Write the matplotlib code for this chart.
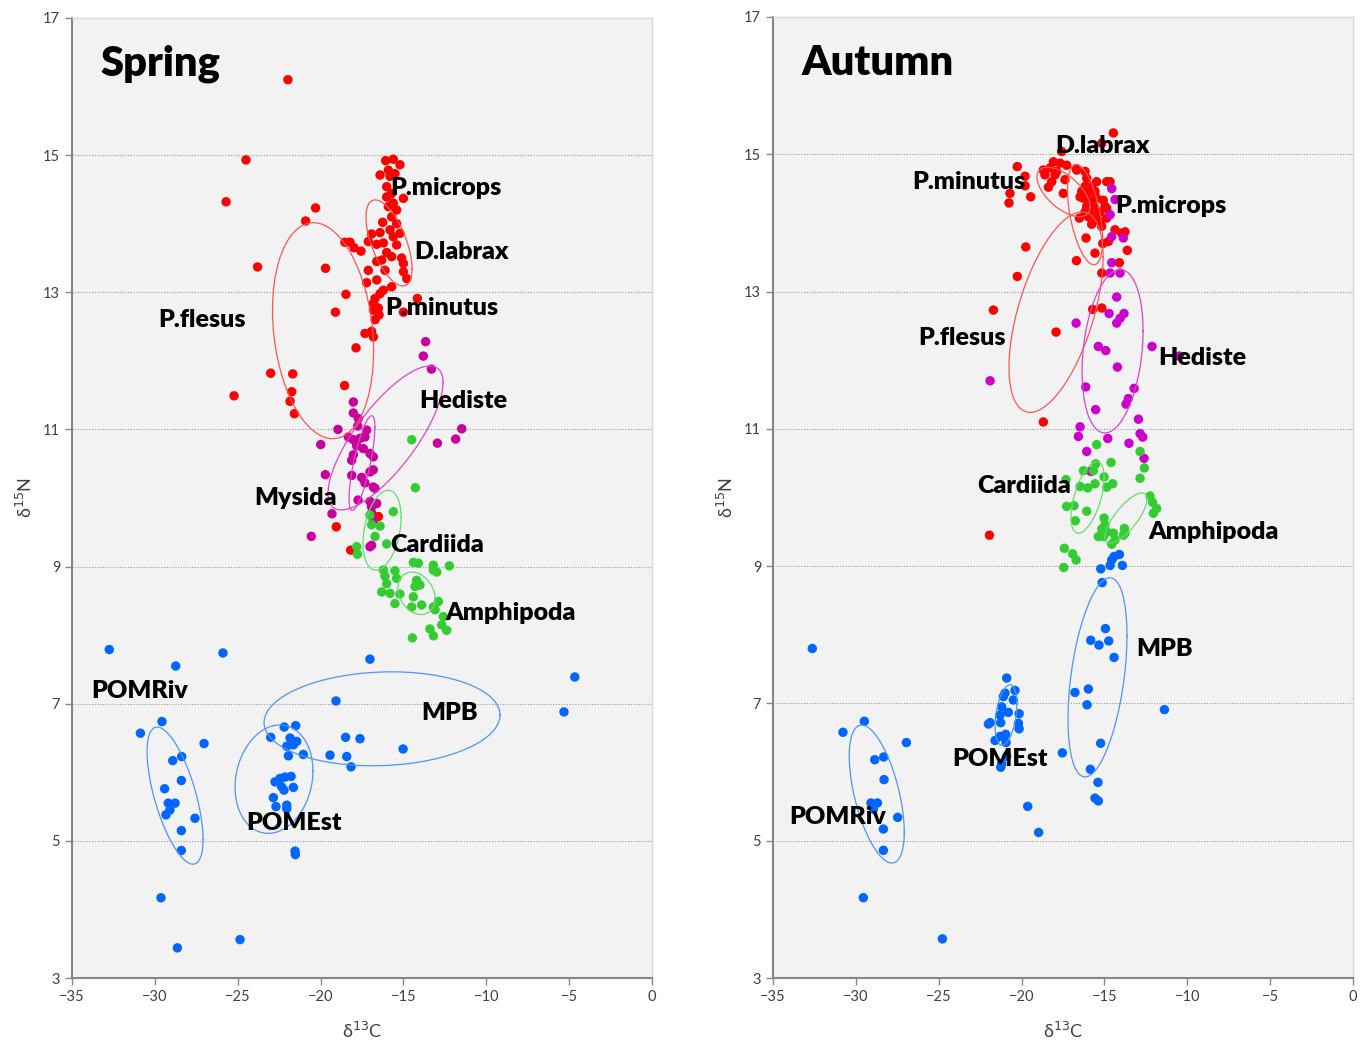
import numpy as np
import matplotlib
matplotlib.use('Agg')
import matplotlib.pyplot as plt

plt.rcParams['font.family'] = ['Lato', 'DejaVu Sans']

# ---------------- Spring data ----------------
spring_red_x = [-21.97, -24.5, -25.7, -20.3, -20.9, -23.8, -19.7, -18.53, -18.22, -17.98, -17.56,
                -18.47, -19.1, -17.86,
                -16.07, -15.61, -15.21, -15.91, -16.41, -15.81, -15.51, -16.01, -15.71, -15.00,
                -16.01, -15.61, -15.41, -15.91, -15.71, -15.41, -16.25, -15.81, -16.41, -16.92,
                -15.21, -15.61, -17.12, -16.61, -16.21, -15.41, -16.01, -15.71, -16.31, -15.11,
                -15.00, -16.61, -16.11, -17.12, -15.00, -14.80, -16.61, -17.22, -15.71, -16.21,
                -16.41, -16.71, -16.81, -16.51, -16.81, -16.71, -16.47, -17.32, -16.92, -16.81,
                -14.16, -15.00,
                -23.01, -21.68, -25.22, -21.74, -21.84, -21.58, -18.55, -16.51, -19.05, -18.18]
spring_red_y = [16.10, 14.93, 14.32, 14.23, 14.04, 13.37, 13.35, 13.73, 13.73, 13.65, 13.60,
                12.97, 12.71, 12.19,
                14.92, 14.94, 14.86, 14.78, 14.71, 14.69, 14.73, 14.54, 14.44, 14.37,
                14.39, 14.30, 14.20, 14.25, 14.10, 14.00, 14.02, 13.91, 13.87, 13.85,
                13.86, 13.81, 13.74, 13.70, 13.72, 13.69, 13.58, 13.52, 13.47, 13.50,
                13.42, 13.45, 13.32, 13.32, 13.30, 13.20, 13.18, 13.14, 13.08, 13.03,
                12.98, 12.91, 12.84, 12.77, 12.74, 12.60, 12.67, 12.40, 12.43, 12.35,
                12.91, 12.71,
                11.82, 11.81, 11.49, 11.55, 11.41, 11.23, 11.64, 9.73, 9.58, 9.24]

spring_mag_x = [-13.66, -13.80, -13.31, -18.02, -18.02, -17.72, -17.76, -18.95, -17.22, -18.32,
                -18.02, -17.62, -17.32, -17.82, -17.42, -19.99, -18.02, -17.02, -16.82, -18.12,
                -11.48, -11.85, -12.95, -19.71, -18.12, -17.52, -17.32, -17.02, -16.82, -16.82,
                -16.71, -17.74, -17.02, -16.61, -16.92, -16.92, -16.81, -19.31, -20.56, -16.92,
                -17.02]
spring_mag_y = [12.28, 12.07, 11.88, 11.40, 11.24, 11.16, 11.05, 11.00, 10.99, 10.89,
                10.85, 10.87, 10.89, 10.76, 10.72, 10.78, 10.63, 10.65, 10.60, 10.55,
                11.01, 10.86, 10.80, 10.34, 10.33, 10.30, 10.22, 10.38, 10.41, 10.16,
                10.14, 9.97, 9.95, 9.92, 9.87, 9.78, 9.68, 9.77, 9.44, 9.31,
                9.29]

spring_green_x = [-14.50, -14.28, -15.61, -17.02, -16.92, -16.41, -16.71, -16.01, -17.82, -17.78,
                  -14.40, -14.10, -13.19, -12.23, -13.19, -12.99, -16.21, -15.51, -16.11, -15.41,
                  -16.01, -16.31, -15.81, -15.21, -14.20, -14.30, -14.00, -14.40, -14.50, -15.51,
                  -13.90, -13.19, -12.89, -13.09, -12.59, -12.69, -13.40, -12.39, -13.19, -14.46]
spring_green_y = [10.85, 10.15, 9.80, 9.75, 9.61, 9.59, 9.44, 9.33, 9.29, 9.18,
                  9.06, 9.05, 9.02, 9.01, 8.95, 8.92, 8.95, 8.94, 8.86, 8.83,
                  8.75, 8.63, 8.61, 8.60, 8.80, 8.71, 8.73, 8.56, 8.41, 8.46,
                  8.44, 8.41, 8.49, 8.37, 8.27, 8.15, 8.09, 8.07, 7.99, 7.96]

spring_blue_x = [-32.75, -28.74, -25.89, -29.57, -30.87, -27.03, -28.38, -28.92, -28.40, -29.41,
                 -29.19, -28.78, -29.09, -29.33, -27.58, -28.40, -28.40, -29.63, -28.64, -24.86,
                 -22.19, -21.50, -23.01, -21.84, -21.44, -21.64, -22.04, -21.94, -21.04,
                 -22.75, -22.45, -22.15, -21.78, -22.35, -22.21, -21.64, -22.85, -22.69, -22.04,
                 -22.04, -21.54, -21.52,
                 -17.02, -19.07, -18.49, -17.62, -19.43, -18.42, -18.16, -15.02, -4.66, -5.31]
spring_blue_y = [7.79, 7.55, 7.74, 6.74, 6.57, 6.42, 6.23, 6.17, 5.88, 5.76,
                 5.55, 5.55, 5.45, 5.38, 5.33, 5.15, 4.86, 4.17, 3.44, 3.56,
                 6.66, 6.68, 6.51, 6.50, 6.45, 6.40, 6.38, 6.24, 6.26,
                 5.86, 5.91, 5.93, 5.94, 5.79, 5.74, 5.78, 5.63, 5.50, 5.52,
                 5.47, 4.85, 4.80,
                 7.65, 7.04, 6.51, 6.49, 6.25, 6.23, 6.08, 6.34, 7.39, 6.88]

# ellipses: centre, half-width, half-height, tilt (correlation)
spring_ell_cx = [-19.85, -15.87, -16.08, -17.50, -16.29, -14.21, -28.78, -22.81, -16.29]
spring_ell_cy = [12.44, 13.72, 10.875, 10.51, 9.53, 8.61, 5.66, 5.90, 6.78]
spring_ell_rx = [3.05, 1.39, 3.47, 0.78, 1.15, 1.12, 1.69, 2.35, 7.12]
spring_ell_ry = [1.575, 0.627, 1.05, 0.69, 0.583, 0.31, 1.0, 0.79, 0.685]
spring_ell_rho = [-0.19, -0.6, 0.77, 0.75, 0.32, -0.25, -0.64, 0.15, 0.08]
spring_ell_col = ['red', 'red', 'mag', 'mag', 'green', 'green', 'blue', 'blue', 'blue']

spring_labels = ['P.microps', 'D.labrax', 'P.minutus', 'P.flesus', 'Hediste', 'Mysida',
                 'Cardiida', 'Amphipoda', 'POMRiv', 'MPB', 'POMEst']
spring_lab_x = [-15.81, -14.36, -16.11, -29.81, -14.06, -24.02, -15.81, -12.49, -33.85, -13.94, -24.50]
spring_lab_y = [14.52, 13.59, 12.77, 12.60, 11.41, 10.00, 9.31, 8.32, 7.19, 6.86, 5.26]

# ---------------- Autumn data ----------------
autumn_red_x = [-14.46, -15.16, -17.58, -20.26, -19.79, -20.70, -20.76, -19.45, -19.79,
                -18.08, -17.68, -17.28, -18.69, -18.28, -17.88, -18.59, -17.98, -17.38, -18.18,
                -18.38, -17.48, -16.71, -16.17, -16.67,
                -16.07, -15.47, -14.86, -14.66, -16.17, -15.77, -16.37, -15.97, -15.57, -16.27,
                -15.87, -15.47, -15.07, -16.47, -16.07, -15.67, -14.96, -16.17, -15.77, -15.27,
                -14.86, -15.97, -15.47, -14.86, -16.51, -15.27, -15.77, -15.17, -14.36, -13.96,
                -13.76, -16.11, -15.10, -14.76, -15.57, -13.62, -16.69, -14.10, -15.16, -19.75,
                -20.26, -21.70, -17.92, -15.71, -15.16, -18.69, -21.94]
autumn_red_y = [15.31, 15.16, 15.04, 14.82, 14.68, 14.43, 14.29, 14.38, 14.54,
                14.89, 14.87, 14.84, 14.77, 14.80, 14.75, 14.70, 14.70, 14.63, 14.60,
                14.52, 14.43, 14.79, 14.75, 14.77,
                14.65, 14.60, 14.60, 14.60, 14.53, 14.53, 14.46, 14.43, 14.46, 14.36,
                14.33, 14.36, 14.33, 14.38, 14.24, 14.24, 14.24, 14.16, 14.14, 14.16,
                14.21, 14.09, 14.09, 14.07, 14.07, 14.02, 13.98, 13.95, 13.90, 13.85,
                13.87, 13.78, 13.70, 13.73, 13.56, 13.60, 13.45, 13.42, 13.27, 13.65,
                13.22, 12.73, 12.41, 12.74, 12.76, 11.10, 9.45]

autumn_mag_x = [-14.56, -14.36, -14.66, -14.56, -13.86, -14.56, -14.66, -14.06, -14.26, -14.72,
                -14.26, -14.06, -13.82, -16.71, -21.90, -15.37, -14.92, -12.13, -10.48, -14.22,
                -16.13, -13.21, -13.56, -13.70, -15.53, -12.95, -16.47, -16.57, -14.80, -12.85,
                -12.69, -13.52, -16.07, -12.61, -15.83]
autumn_mag_y = [14.50, 14.34, 14.12, 13.80, 13.78, 13.42, 13.27, 13.27, 12.92, 12.68,
                12.54, 12.61, 12.68, 12.54, 11.70, 12.20, 12.14, 12.20, 12.06, 11.90,
                11.61, 11.59, 11.44, 11.36, 11.28, 11.14, 11.03, 10.89, 10.86, 10.93,
                10.88, 10.79, 10.67, 10.57, 10.38]

autumn_green_x = [-15.47, -12.85, -14.60, -15.53, -15.67, -16.27, -12.59, -12.85, -17.32, -15.02,
                  -16.47, -16.01, -15.57, -14.86, -14.50, -12.25, -12.09, -11.85, -12.05, -17.28,
                  -16.84, -16.07, -16.76, -15.02, -14.96, -15.16, -14.86, -15.37, -15.06, -14.46,
                  -14.36, -14.56, -13.80, -13.76, -13.86, -17.42, -16.92, -16.71, -17.46]
autumn_green_y = [10.77, 10.67, 10.51, 10.49, 10.39, 10.39, 10.43, 10.28, 10.26, 10.30,
                  10.16, 10.14, 10.20, 10.15, 10.20, 10.02, 9.93, 9.84, 9.77, 9.87,
                  9.88, 9.80, 9.66, 9.70, 9.60, 9.54, 9.50, 9.43, 9.43, 9.48,
                  9.38, 9.32, 9.55, 9.48, 9.45, 9.26, 9.18, 9.09, 8.98]

autumn_blue_x = [-14.10, -14.42, -14.56, -14.66, -13.92, -15.22, -15.14, -14.94, -15.83, -15.33,
                 -14.74, -14.42, -20.90, -32.63,
                 -21.00, -20.40, -21.10, -20.50, -21.20, -20.80, -21.30, -21.90, -22.00, -21.26,
                 -20.15, -20.19, -20.15, -21.60, -21.30, -20.96, -20.94, -20.90, -21.26, -21.20,
                 -15.97, -16.78, -16.05, -15.23, -17.54, -15.85, -15.39, -15.57, -15.37, -11.38,
                 -19.63, -18.97,
                 -29.49, -30.78, -26.95, -28.32, -28.86, -28.30, -29.09, -28.70, -28.95, -27.48,
                 -28.34, -28.34, -29.55, -24.78]
autumn_blue_y = [9.17, 9.14, 9.09, 9.01, 9.01, 8.96, 8.76, 8.09, 7.92, 7.85,
                 7.91, 7.67, 7.37, 7.80,
                 7.15, 7.19, 7.10, 7.05, 6.95, 6.87, 6.83, 6.72, 6.70, 6.72,
                 6.85, 6.71, 6.63, 6.46, 6.52, 6.55, 6.43, 6.23, 6.07, 6.12,
                 7.21, 7.16, 6.98, 6.42, 6.28, 6.04, 5.85, 5.62, 5.58, 6.91,
                 5.50, 5.12,
                 6.74, 6.58, 6.43, 6.22, 6.18, 5.89, 5.55, 5.55, 5.46, 5.34,
                 5.17, 4.86, 4.17, 3.57]

autumn_ell_cx = [-17.92, -17.47, -16.17, -14.51, -16.02, -13.70, -15.42, -20.94, -28.74]
autumn_ell_cy = [12.70, 14.45, 14.12, 12.13, 10.0, 9.70, 7.38, 6.83, 5.68]
autumn_ell_rx = [2.84, 1.6, 1.06, 1.84, 1.0, 1.27, 1.78, 0.66, 1.66]
autumn_ell_ry = [1.46, 0.36, 0.73, 1.19, 0.52, 0.365, 1.45, 0.44, 1.005]
autumn_ell_rho = [0.55, -0.6, -0.5, 0.25, 0.55, 0.76, 0.42, 0.36, -0.55]
autumn_ell_col = ['red', 'red', 'red', 'mag', 'green', 'green', 'blue', 'blue', 'blue']

autumn_labels = ['D.labrax', 'P.minutus', 'P.microps', 'P.flesus', 'Hediste', 'Cardiida',
                 'Amphipoda', 'MPB', 'POMEst', 'POMRiv']
autumn_lab_x = [-17.98, -26.61, -14.36, -26.25, -11.77, -22.69, -12.37, -13.09, -24.20, -34.03]
autumn_lab_y = [15.12, 14.60, 14.25, 12.32, 12.03, 10.17, 9.50, 7.79, 6.19, 5.35]

dot_colors = {'red': '#ff0000', 'green': '#33cc33', 'blue': '#0066ff'}
line_colors = {'red': '#ff5555', 'mag': '#dd44cc', 'green': '#66dd66', 'blue': '#4d94ff'}


def ellipse_xy(cx, cy, rx, ry, rho):
    t = np.linspace(0, 2 * np.pi, 300)
    phi = np.arccos(rho)
    return cx + rx * np.cos(t), cy + ry * np.cos(t - phi)


def draw_panel(ax, title, groups, ells, labels, mag_color):
    ax.set_facecolor('#f2f2f2')
    ax.set_xlim(-35, 0)
    ax.set_ylim(3, 17)
    ax.set_xticks(range(-35, 1, 5))
    ax.set_yticks(range(3, 18, 2))
    for yv in range(5, 17, 2):
        ax.axhline(yv, color='#9a9a9a', lw=0.8, ls=(0, (1, 1.5)), zorder=0)

    for (gx, gy, key) in groups:
        c = mag_color if key == 'mag' else dot_colors[key]
        ax.scatter(gx, gy, s=46, color=c, edgecolors='none', zorder=3)

    cx, cy, rx, ry, rho, cols = ells
    for i in range(len(cx)):
        ex, ey = ellipse_xy(cx[i], cy[i], rx[i], ry[i], rho[i])
        ax.plot(ex, ey, color=line_colors[cols[i]], lw=0.9, zorder=4)

    names, lx, ly = labels
    for n, x, y in zip(names, lx, ly):
        ax.text(x, y, n, fontsize=18, fontweight='heavy', va='center', ha='left', zorder=5)

    ax.text(-33.3, 16.33, title, fontsize=30, fontweight='heavy', va='center', ha='left')

    for s in ['top', 'right']:
        ax.spines[s].set_color('#d9d9d9')
        ax.spines[s].set_linewidth(1)
    for s in ['left', 'bottom']:
        ax.spines[s].set_color('#868686')
        ax.spines[s].set_linewidth(1.5)
    ax.tick_params(direction='out', length=5, width=1, color='#868686',
                   labelsize=10.5, labelcolor='#404040')
    ax.set_xlabel('δ$^{13}$C', fontsize=13, color='#404040', labelpad=12)
    ax.set_ylabel('δ$^{15}$N', fontsize=13, color='#404040', labelpad=6)


fig = plt.figure(figsize=(13.66, 10.40), dpi=100)
ax1 = fig.add_axes([0.0527, 0.0596, 0.4246, 0.9231])
ax2 = fig.add_axes([0.5659, 0.0596, 0.4246, 0.9241])

draw_panel(ax1, 'Spring',
           [(spring_red_x, spring_red_y, 'red'), (spring_mag_x, spring_mag_y, 'mag'),
            (spring_green_x, spring_green_y, 'green'), (spring_blue_x, spring_blue_y, 'blue')],
           (spring_ell_cx, spring_ell_cy, spring_ell_rx, spring_ell_ry, spring_ell_rho, spring_ell_col),
           (spring_labels, spring_lab_x, spring_lab_y), '#c8009c')

draw_panel(ax2, 'Autumn',
           [(autumn_red_x, autumn_red_y, 'red'), (autumn_mag_x, autumn_mag_y, 'mag'),
            (autumn_green_x, autumn_green_y, 'green'), (autumn_blue_x, autumn_blue_y, 'blue')],
           (autumn_ell_cx, autumn_ell_cy, autumn_ell_rx, autumn_ell_ry, autumn_ell_rho, autumn_ell_col),
           (autumn_labels, autumn_lab_x, autumn_lab_y), '#cc00cc')

fig.savefig('out.png', dpi=100)
